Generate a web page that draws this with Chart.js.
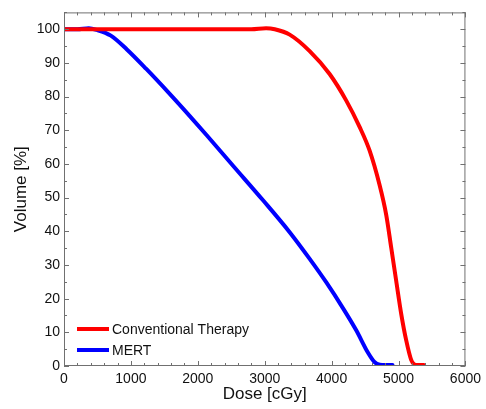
<!DOCTYPE html>
<html>
<head>
<meta charset="utf-8">
<script src="https://cdn.jsdelivr.net/npm/chart.js@4/dist/chart.umd.min.js"></script>
<style>
  html, body { margin:0; padding:0; background:#fff; }
  #wrap { width:486px; height:409px; }
</style>
</head>
<body>
<div id="wrap"><canvas id="dvh"></canvas></div>
<script>
// values
const convDose   = [0, 1000, 2000, 2800, 3020, 3150, 3373, 3672, 3970, 4219, 4418, 4567, 4716, 4816, 4891, 4965, 5040, 5115, 5190, 5264, 5380];
const convVolume = [100, 100, 100, 100, 100.3, 100, 98.4, 93.5, 86.7, 78.8, 71.0, 64.0, 53.8, 44.9, 35.1, 25.3, 15.5, 7.6, 1.8, 0.3, 0.3];

const mertDose   = [0, 200, 370, 490, 700, 940, 1230, 1580, 1930, 2130, 2530, 2975, 3370, 3672, 3921, 4169, 4368, 4542, 4640, 4720, 4800, 4910];
const mertVolume = [100, 100, 100.3, 99.8, 98.1, 94.0, 88.2, 80.8, 73.1, 68.6, 59.4, 49.2, 39.8, 31.8, 24.8, 17.2, 10.6, 4.0, 1.2, 0.4, 0.3, 0.3];

const xTicks = [0, 1000, 2000, 3000, 4000, 5000, 6000];
const yTicks = [0, 10, 20, 30, 40, 50, 60, 70, 80, 90, 100];

const FONT = '"Liberation Sans", Arial, sans-serif';

const pairs = (xs, ys) => xs.map((x, i) => ({ x, y: ys[i] }));

// frame with inward ticks on all four sides + legend inside the plot
const framePlugin = {
    id: 'frame',
    afterDatasetsDraw(chart) {
        const { ctx, chartArea: a, scales: { x, y } } = chart;
        ctx.save();
        ctx.strokeStyle = '#707070';
        ctx.lineWidth = 1;
        ctx.strokeRect(a.left + 0.5, a.top + 0.5, a.right - a.left - 1, a.bottom - a.top - 1);

        ctx.beginPath();
        for (let v = 0; v <= 6000; v += 200) {
            const px = Math.round(x.getPixelForValue(v)) + 0.5;
            const len = v % 1000 === 0 ? 5 : 3;
            ctx.moveTo(px, a.bottom); ctx.lineTo(px, a.bottom - len);
            ctx.moveTo(px, a.top);    ctx.lineTo(px, a.top + len);
        }
        for (let v = 0; v <= 105; v += 5) {
            const py = Math.round(y.getPixelForValue(v)) + 0.5;
            const len = v % 10 === 0 ? 5 : 3;
            ctx.moveTo(a.left, py);  ctx.lineTo(a.left + len, py);
            ctx.moveTo(a.right, py); ctx.lineTo(a.right - len, py);
        }
        ctx.stroke();

        // legend
        ctx.font = '14px ' + FONT;
        ctx.textBaseline = 'middle';
        ctx.fillStyle = '#111';
        chart.data.datasets.forEach((ds, i) => {
            const ly = a.bottom - 37 + i * 21;
            ctx.strokeStyle = ds.borderColor;
            ctx.lineWidth = 4;
            ctx.beginPath();
            ctx.moveTo(a.left + 13, ly);
            ctx.lineTo(a.left + 45, ly);
            ctx.stroke();
            ctx.fillText(ds.label, a.left + 48, ly + 1);
        });
        ctx.restore();
    }
};

new Chart(document.getElementById('dvh'), {
    type: 'scatter',
    data: {
        datasets: [
            {
                label: 'Conventional Therapy',
                data: pairs(convDose, convVolume),
                borderColor: '#ff0000',
                backgroundColor: '#ff0000',
            },
            {
                label: 'MERT',
                data: pairs(mertDose, mertVolume),
                borderColor: '#0000ff',
                backgroundColor: '#0000ff',
            }
        ]
    },
    options: {
        responsive: true,
        maintainAspectRatio: false,
        animation: false,
        showLine: true,
        layout: { padding: { left: 0, top: 9, right: 20, bottom: 0 } },
        elements: {
            point: { radius: 0, hoverRadius: 0 },
            line : { borderWidth: 4, cubicInterpolationMode: 'monotone', borderCapStyle: 'round', borderJoinStyle: 'round' }
        },
        plugins: {
            legend : { display: false },
            tooltip: { enabled: false }
        },
        scales: {
            x: {
                type: 'linear',
                min: 0, max: 6000,
                afterBuildTicks: s => { s.ticks = xTicks.map(v => ({ value: v })); },
                afterFit: s => { s.height = 43; },
                grid  : { display: false, drawTicks: false },
                border: { display: false },
                ticks : { padding: 5, color: '#111', font: { family: FONT, size: 14 }, maxRotation: 0, callback: v => String(v) },
                title : { display: true, text: 'Dose [cGy]', color: '#111', font: { family: FONT, size: 17 }, padding: { top: 0, bottom: 4 } }
            },
            y: {
                type: 'linear',
                min: 0, max: 105,
                afterBuildTicks: s => { s.ticks = yTicks.map(v => ({ value: v })); },
                afterFit: s => { s.width = 64; },
                grid  : { display: false, drawTicks: false },
                border: { display: false },
                ticks : { padding: 4, color: '#111', font: { family: FONT, size: 14 }, callback: v => String(v) },
                title : { display: true, text: 'Volume [%]', color: '#111', font: { family: FONT, size: 17 }, padding: { top: 11, bottom: 0 } }
            }
        }
    },
    plugins: [framePlugin]
});
</script>
</body>
</html>
